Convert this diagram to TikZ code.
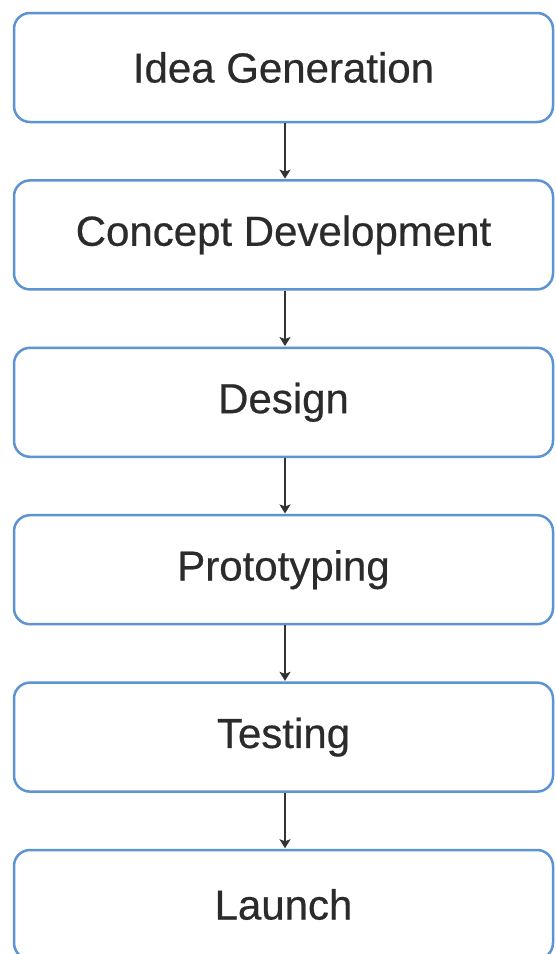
\documentclass[tikz,border=0pt]{standalone}
\usepackage{fontspec}
\setmainfont{Liberation Sans}
\newfontfamily\boxfont{Liberation Sans}[FakeBold=0.5]
\usetikzlibrary{arrows.meta}
\definecolor{boxblue}{HTML}{5B93D3}
\definecolor{txt}{HTML}{2B2B2B}
\definecolor{arrowc}{HTML}{333333}
\tikzset{
  stepbox/.style={draw=boxblue, line width=2.5pt, fill=white, rectangle,
    rounded corners=16pt, minimum width=539pt, minimum height=109pt,
    inner sep=0pt, text=txt, font=\boxfont\fontsize{42}{50}\selectfont},
  flow/.style={draw=arrowc, line width=1.8pt,
    -{Stealth[length=9pt, width=11pt, inset=2pt]}, shorten >=0.5pt}
}
\begin{document}
\begin{tikzpicture}[x=1pt, y=-1pt]
\clip (0,0) rectangle (556,954);
\fill[white] (0,0) rectangle (556,954);
\node[stepbox] (n1) at (283.5,67.5) {Idea Generation};
\node[stepbox] (n2) at (283.5,234.9) {Concept Development};
\node[stepbox] (n3) at (283.5,402.3) {Design};
\node[stepbox] (n4) at (283.5,569.7) {Prototyping};
\node[stepbox] (n5) at (283.5,737.1) {Testing};
\node[stepbox] (n6) at (283.5,904.5) {Launch};
\draw[flow] ([xshift=1.5pt]n1.south) -- ([xshift=1.5pt]n2.north);
\draw[flow] ([xshift=1.5pt]n2.south) -- ([xshift=1.5pt]n3.north);
\draw[flow] ([xshift=1.5pt]n3.south) -- ([xshift=1.5pt]n4.north);
\draw[flow] ([xshift=1.5pt]n4.south) -- ([xshift=1.5pt]n5.north);
\draw[flow] ([xshift=1.5pt]n5.south) -- ([xshift=1.5pt]n6.north);
\end{tikzpicture}
\end{document}
